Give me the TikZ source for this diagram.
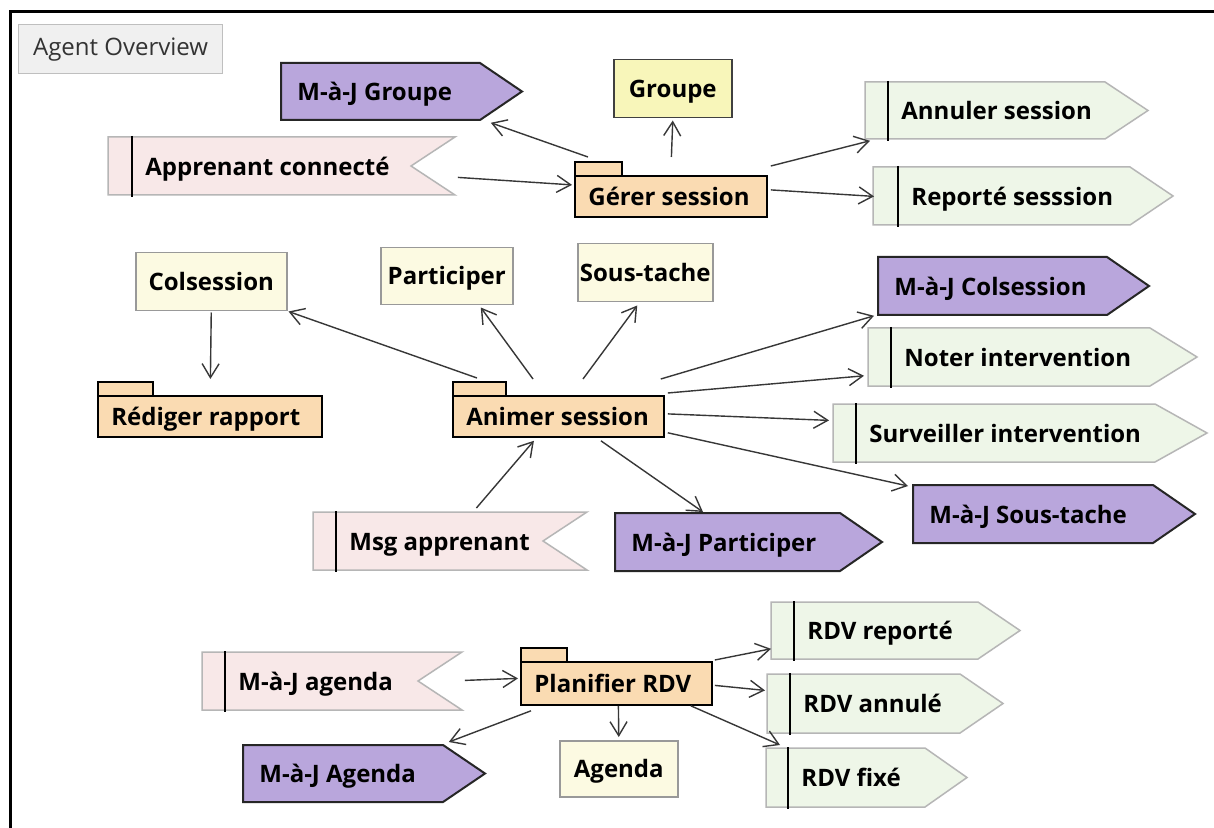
\documentclass[tikz,border=0pt]{standalone}
\usepackage{fontspec}
\setmainfont{Open Sans}
\usepackage{xcolor}
\usepackage{tikz}
\usetikzlibrary{calc,arrows.meta}

\definecolor{evtpurple}{RGB}{185,166,220}
\definecolor{evtpink}{RGB}{248,232,232}
\definecolor{evtgreen}{RGB}{238,246,232}
\definecolor{pkgorange}{RGB}{250,219,178}
\definecolor{dataclr}{RGB}{252,250,226}
\definecolor{grpyellow}{RGB}{248,246,186}
\definecolor{edgegray}{RGB}{182,182,182}
\definecolor{linkgray}{RGB}{55,55,55}

% label over the body of a shape, text pushed #6 px in from the left edge
\newcommand{\bodylabel}[7]{%
  \pgfmathsetmacro{\bw}{((#4)-(#2))/2}%
  \pgfmathsetmacro{\bh}{((#5)-(#3))/2}%
  \pgfmathsetmacro{\bp}{(#6)/2}%
  \node[lbl,minimum height=\bh pt] (#1) at (#2,#3) {\makebox[\bw pt][l]{\hspace*{\bp pt}#7}};%
}
% purple pentagon: name, x1, y1, x2, y2, text
\newcommand{\sendevt}[6]{%
  \draw[color=black!85,fill=evtpurple,line width=1pt]
    (#2,#3) -- (#4,#3) -- ({#4+42},{(#3+#5)/2}) -- (#4,#5) -- (#2,#5) -- cycle;
  \bodylabel{#1}{#2}{#3}{#4}{#5}{16}{#6}%
}
% green pentagon with bar: name, x1, y1, x2, tip, y2, bar, text
\newcommand{\actevt}[8]{%
  \draw[color=edgegray,fill=evtgreen,line width=0.75pt]
    (#2,#3) -- (#4,#3) -- (#5,{(#3+#6)/2}) -- (#4,#6) -- (#2,#6) -- cycle;
  \draw[line width=1.3pt] (#7,{#3-1}) -- (#7,{#6+2});
  \bodylabel{#1}{#2}{#3}{#4}{#6}{#7-#2+13}{#8}%
}
% pink notched flag with bar: name, x1, y1, x2, y2, bar, text
\newcommand{\recvevt}[7]{%
  \draw[color=edgegray,fill=evtpink,line width=0.75pt]
    (#2,#3) -- (#4,#3) -- ({#4-44},{(#3+#5)/2}) -- (#4,#5) -- (#2,#5) -- cycle;
  \draw[line width=1.3pt] (#6,{#3-1}) -- (#6,{#5+2});
  \bodylabel{#1}{#2}{#3}{#4}{#5}{#6-#2+13}{#7}%
}
% package: name, x1, tab top, tab right, x2, y2, text
\newcommand{\pkg}[7]{%
  \draw[fill=pkgorange,line width=1.4pt] (#2,#3) rectangle (#4,{#3+14});
  \draw[fill=pkgorange,line width=1.4pt] (#2,{#3+14}) rectangle (#5,#6);
  \bodylabel{#1}{#2}{#3+14}{#5}{#6}{13}{#7}%
}

\begin{document}
\begin{tikzpicture}[x=0.5pt,y=-0.5pt,
    >={Straight Barb[length=7pt,width=8.5pt]},
    lbl/.style={anchor=north west,inner sep=0pt,text height=8.7pt,text depth=0pt,
      font=\fontsize{12}{14}\selectfont\bfseries},
    datum/.style={lbl,draw=black!40,fill=dataclr,line width=0.75pt},
    link/.style={->,color=linkgray,line width=0.7pt}]
    \useasboundingbox[fill=white] (0,0) rectangle (1214,828);
    \draw[line width=1.5pt] (10,828) -- (10,12) -- (1214,12);

    \node[anchor=north west,draw=black!25,fill=black!6,line width=0.6pt,
      minimum width=102pt,minimum height=24.5pt,text=black!80,
      font=\fontsize{12}{14}\selectfont] (title) at (18,24) {Agent Overview};

    % top group
    \sendevt{majgroupe}{281}{63}{480}{120}{M-à-J Groupe}
    \node[datum,fill=grpyellow,draw=black!75,minimum width=59pt,minimum height=29pt]
      (groupe) at (613,59) {Groupe};
    \recvevt{apprenant}{108}{137}{455}{195}{132}{Apprenant connecté}
    \pkg{gerer}{575}{162}{622}{767}{217}{Gérer session}
    \actevt{annuler}{865}{82}{1105}{1148}{139}{888}{Annuler session}
    \actevt{reporte}{873}{167}{1130}{1173}{225}{898}{Reporté sesssion}

    % middle group
    \node[datum,minimum width=75.5pt,minimum height=29pt] (colsession) at (135,252) {Colsession};
    \node[datum,minimum width=66pt,minimum height=28.5pt] (participer) at (380,247) {Participer};
    \node[datum,minimum width=67.5pt,minimum height=29pt] (soustache) at (577,243) {Sous-tache};
    \pkg{rediger}{98}{382}{153}{322}{437}{Rédiger rapport}
    \pkg{animer}{453}{382}{506}{664}{437}{Animer session}
    \sendevt{majcol}{878}{257}{1107}{315}{M-à-J Colsession}
    \actevt{noter}{868}{328}{1150}{1197}{386}{891}{Noter intervention}
    \actevt{surveiller}{833}{404}{1155}{1207}{462}{856}{Surveiller intervention}
    \sendevt{majsous}{913}{485}{1153}{543}{M-à-J Sous-tache}
    \recvevt{msg}{313}{512}{587}{570}{336}{Msg apprenant}
    \sendevt{majpart}{615}{513}{840}{571}{M-à-J Participer}

    % bottom group
    \recvevt{majagenda}{202}{652}{462}{710}{225}{M-à-J agenda}
    \pkg{planifier}{521}{648}{567}{712}{705}{Planifier RDV}
    \actevt{rdvrep}{771}{602}{978}{1020}{659}{794}{RDV reporté}
    \actevt{rdvann}{767}{674}{960}{1003}{733}{790}{RDV annulé}
    \actevt{rdvfix}{766}{748}{925}{967}{807}{788}{RDV fixé}
    \sendevt{majAgenda}{243}{745}{443}{802}{M-à-J Agenda}
    \node[datum,minimum width=59pt,minimum height=28pt] (agenda) at (559,740) {Agenda};

    \draw[link] ($(gerer.north west)+(13,-19)$) -- ($(majgroupe.south east)+(10,2)$);
    \draw[link] ($(gerer.north)+(0,-19)$) -- ($(groupe.south)+(0,2)$);
    \draw[link] ($(apprenant.east)+(2,11)$) -- ($(gerer.west)+(-3,-12)$);
    \draw[link] ($(gerer.north east)+(3,-10)$) -- ($(annuler.south west)+(5,1)$);
    \draw[link] ($(gerer.east)+(3,-7)$) -- ($(reporte.west)+(1,0)$);

    \draw[link] ($(colsession.south)+(0,1)$) -- ($(rediger.north)+(0,-17)$);
    \draw[link] ($(animer.north west)+(24,-18)$) -- ($(colsession.south east)+(1,0)$);
    \draw[link] ($(animer.north west)+(80,-17)$) -- ($(participer.south)+(34,2)$);
    \draw[link] ($(animer.north west)+(130,-17)$) -- ($(soustache.south)+(-8,3)$);
    \draw[link] ($(animer.north east)+(-4,-17)$) -- ($(majcol.south west)+(-4,0)$);
    \draw[link] ($(animer.north east)+(3,-3)$) -- ($(noter.south west)+(-4,-11)$);
    \draw[link] ($(animer.east)+(3,-3)$) -- ($(surveiller.west)+(-4,-13)$);
    \draw[link] ($(animer.south east)+(3,-5)$) -- ($(majsous.north west)+(-5,1)$);
    \draw[link] ($(animer.south)+(42,3)$) -- ($(majpart.north west)+(88,-1)$);
    \draw[link] ($(msg.north)+(26,-4)$) -- ($(animer.south)+(-25,3)$);

    \draw[link] ($(majagenda.east)+(2,-1)$) -- ($(planifier.west)+(-3,-5.5)$);
    \draw[link] ($(planifier.north east)+(2,-2)$) -- ($(rdvrep.south west)+(0,-11)$);
    \draw[link] ($(planifier.east)+(2,1.5)$) -- ($(rdvann.west)+(-2,-13.5)$);
    \draw[link] ($(planifier.south east)+(-22,0)$) -- ($(rdvfix.north west)+(14,-3)$);
    \draw[link] ($(planifier.south west)+(10,5)$) -- ($(majAgenda.north east)+(5,-3)$);
    \draw[link] ($(planifier.south)+(1.5,0)$) -- ($(agenda.north)+(0,-3)$);
\end{tikzpicture}
\end{document}
